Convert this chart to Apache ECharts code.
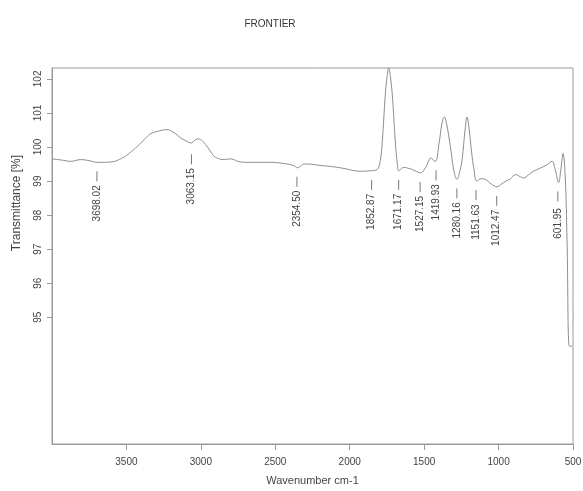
<!DOCTYPE html>
<html>
<head>
<meta charset="utf-8">
<script src="https://cdn.jsdelivr.net/npm/echarts@6/dist/echarts.min.js"></script>
<style>
html,body{margin:0;padding:0;background:#fff;}
#chart{width:583px;height:491px;}
</style>
</head>
<body>
<div id="chart"></div>
<script>
// ---- data ----
var wavenumbers = [4000, 3940, 3874, 3807, 3750, 3695, 3605, 3527, 3480, 3426, 3380, 3337, 3290, 3230, 3180, 3136, 3100, 3064, 3040, 3017, 2990, 2968, 2940, 2912, 2880, 2856, 2800, 2733, 2650, 2531, 2450, 2397, 2370, 2352, 2330, 2310, 2281, 2200, 2129, 2050, 1928, 1870, 1816, 1795, 1782, 1760, 1748, 1738, 1728, 1715, 1693, 1680, 1671, 1650, 1632, 1610, 1592, 1560, 1525, 1490, 1453, 1435, 1424, 1400, 1380, 1364, 1350, 1324, 1300, 1279, 1260, 1245, 1225, 1212, 1200, 1180, 1167, 1146, 1120, 1090, 1050, 1010, 985, 950, 921, 887, 860, 832, 800, 765, 720, 675, 641, 620, 597, 580, 567, 552, 540, 524, 507];
var transmittance = [99.65, 99.62, 99.58, 99.63, 99.60, 99.55, 99.56, 99.68, 99.82, 100.02, 100.22, 100.39, 100.46, 100.51, 100.42, 100.27, 100.18, 100.12, 100.20, 100.24, 100.18, 100.07, 99.90, 99.73, 99.66, 99.63, 99.65, 99.56, 99.55, 99.55, 99.52, 99.48, 99.44, 99.39, 99.44, 99.50, 99.50, 99.46, 99.43, 99.38, 99.29, 99.30, 99.34, 99.60, 100.12, 101.59, 102.10, 102.32, 102.10, 101.59, 100.12, 99.50, 99.30, 99.38, 99.40, 99.38, 99.36, 99.30, 99.24, 99.40, 99.68, 99.60, 99.58, 100.10, 100.70, 100.88, 100.70, 100.02, 99.30, 99.05, 99.30, 99.63, 100.50, 100.88, 100.60, 99.80, 99.40, 99.00, 99.07, 99.05, 98.92, 98.83, 98.90, 99.00, 99.06, 99.19, 99.14, 99.09, 99.18, 99.29, 99.38, 99.48, 99.58, 99.35, 98.96, 99.40, 99.81, 99.10, 97.28, 94.15, 94.15];

var peakWavenumbers = [3698.02, 3063.15, 2354.50, 1852.87, 1671.17, 1527.15, 1419.93, 1280.16, 1151.63, 1012.47, 601.95];
var peakBase = [99.55, 100.05, 99.39, 99.30, 99.30, 99.24, 99.58, 99.05, 99.00, 98.83, 98.96];

var xTicks = [500, 1000, 1500, 2000, 2500, 3000, 3500];
var yTicks = [95, 96, 97, 98, 99, 100, 101, 102];

var titleText = 'FRONTIER';
var xName = 'Wavenumber cm-1';
var yName = 'Transmittance [%]';

// ---- build ----
var lineData = wavenumbers.map(function (w, i) { return [w, transmittance[i]]; });
var peakData = peakWavenumbers.map(function (w, i) { return [w, peakBase[i]]; });

var FONT = '"Liberation Sans", Arial, Helvetica, sans-serif';
var AXIS_COLOR = '#9a9a9a';
var TEXT_COLOR = '#444';

var chart = echarts.init(document.getElementById('chart'), null, {renderer: 'canvas'});
chart.setOption({
  animation: false,
  backgroundColor: '#fff',
  title: {
    text: titleText,
    left: 265, top: 14, textAlign: 'center',
    textStyle: {fontFamily: FONT, fontSize: 10, fontWeight: 'normal', color: '#333'}
  },
  grid: {
    left: 52, right: 10, top: 68, bottom: 47,
    show: true, borderColor: AXIS_COLOR, borderWidth: 1,
    containLabel: false, outerBoundsMode: 'none'
  },
  xAxis: {
    type: 'value', inverse: true, min: 500, max: 4000,
    name: xName, nameLocation: 'middle', nameGap: 31,
    nameTextStyle: {fontFamily: FONT, fontSize: 11, color: TEXT_COLOR},
    axisLine: {show: true, lineStyle: {color: AXIS_COLOR, width: 1}},
    axisTick: {show: true, customValues: xTicks, length: 6, inside: false, lineStyle: {color: AXIS_COLOR}},
    axisLabel: {customValues: xTicks, margin: 13, fontFamily: FONT, fontSize: 10, color: TEXT_COLOR, showMinLabel: true, showMaxLabel: true,
      formatter: function (v) { return String(v); }},
    splitLine: {show: false}
  },
  yAxis: {
    type: 'value', min: 91.28, max: 102.32,
    axisLine: {show: true, lineStyle: {color: AXIS_COLOR, width: 1}},
    axisTick: {show: true, customValues: yTicks, length: 5, lineStyle: {color: AXIS_COLOR}},
    axisLabel: {customValues: yTicks, rotate: 90, margin: 9, fontFamily: FONT, fontSize: 10, color: TEXT_COLOR,
      formatter: function (v) { return String(v); }},
    splitLine: {show: false}
  },
  graphic: [{
    type: 'text', x: 17, y: 203, rotation: Math.PI / 2,
    style: {text: yName, fontFamily: FONT, fontSize: 12, fill: TEXT_COLOR, align: 'center', verticalAlign: 'middle'}
  }],
  series: [{
    type: 'line', data: lineData, showSymbol: false, symbol: 'none',
    smooth: 0.4,
    lineStyle: {color: '#8c8c8c', width: 1}
  }, {
    type: 'custom', data: peakData, clip: false,
    renderItem: function (params, api) {
      var p = api.coord([api.value(0), api.value(1)]);
      var txt = peakWavenumbers[params.dataIndex].toFixed(2);
      return {
        type: 'group',
        children: [{
          type: 'line',
          shape: {x1: p[0], y1: p[1] + 9, x2: p[0], y2: p[1] + 19},
          style: {stroke: '#777', lineWidth: 1}
        }, {
          type: 'text', x: p[0], y: p[1] + 41, rotation: Math.PI / 2,
          style: {text: txt, fontFamily: FONT, fontSize: 10, fill: TEXT_COLOR, align: 'center', verticalAlign: 'middle'}
        }]
      };
    }
  }]
});
</script>
</body>
</html>
